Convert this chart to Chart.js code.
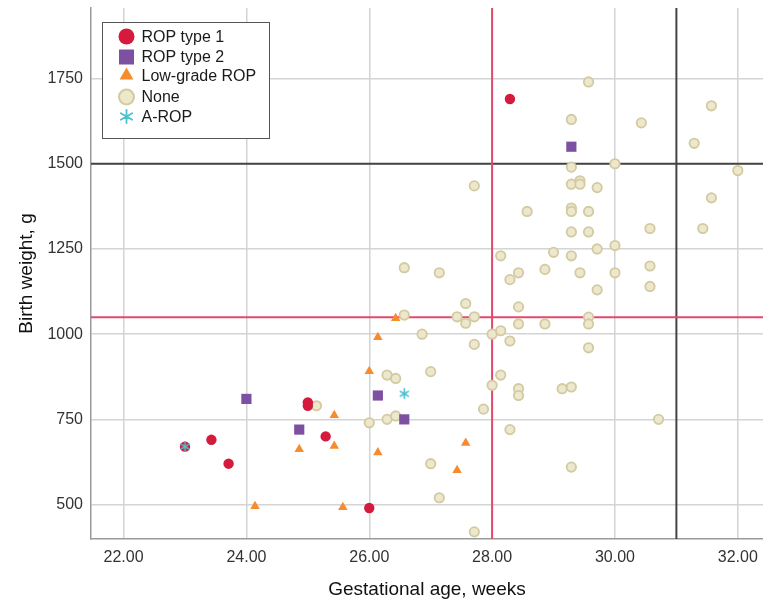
<!DOCTYPE html>
<html><head><meta charset="utf-8">
<script src="https://cdn.jsdelivr.net/npm/chart.js@4.4.0/dist/chart.umd.min.js"></script>
<style>html,body{margin:0;padding:0;background:#fff;}#wrap{width:763px;height:606px;}</style>
</head><body><div id="wrap"><canvas id="c" width="763" height="606"></canvas></div>
<script>
const FONT = '"Liberation Sans", Arial, Helvetica, sans-serif';
const seriesNames = ['ROP type 1', 'ROP type 2', 'Low-grade ROP', 'None', 'A-ROP'];
const xTickValues = [22, 24, 26, 28, 30, 32];
const yTickValues = [500, 750, 1000, 1250, 1500, 1750];
const xRange = [21.47, 32.41];
const yRange = [399, 1957];
const gaCutoffs = [28, 31];      // vertical reference lines (weeks)
const bwCutoffs = [1050, 1500];  // horizontal reference lines (g)

// [gestational age (weeks), birth weight (g)]
const ropType1 = [[23.00,670],[23.43,690],[23.71,620],[25.00,800],[25.00,790],[25.29,700],[26.00,490],[28.29,1690]];
const ropType2 = [[24.00,810],[24.86,720],[26.14,820],[26.57,750],[29.29,1550]];
const lowGrade = [[24.14,495],[24.86,662],[25.43,762],[25.43,672],[25.57,492],[26.00,891],[26.14,991],[26.14,653],[26.43,1047],[27.43,601],[27.57,681]];
const aRop = [[23.00,670],[26.57,825]];
const noneRop = [[26.57,1195],[27.14,1180],[27.57,1090],[27.43,1051],[27.57,1032],[27.71,1051],[26.57,1056],[26.86,1000],[28.00,1000],[27.71,970],[26.29,880],[26.43,870],[27.00,890],[28.00,850],[25.14,790],[26.00,740],[26.29,750],[26.43,760],[27.86,780],[27.00,620],[27.14,520],[27.71,420],
[29.57,1740],[29.29,1630],[30.43,1620],[29.29,1490],[30.00,1500],[27.71,1435],[29.29,1440],[29.43,1450],[29.43,1440],[29.71,1430],[29.29,1370],[29.29,1360],[29.57,1360],[28.57,1360],[29.29,1300],[29.57,1300],[30.00,1260],[29.71,1250],[29.00,1240],[29.29,1230],[28.14,1230],[28.43,1180],[28.86,1190],[28.29,1160],[29.43,1180],[30.00,1180],[29.71,1130],[28.43,1080],[29.57,1050],
[31.57,1670],[31.29,1560],[32.00,1480],[31.57,1400],[30.57,1310],[31.43,1310],[30.57,1200],[30.57,1140],[29.57,1030],[29.57,960],[30.71,750],
[28.43,1030],[28.86,1030],[28.14,1010],[28.29,980],[28.14,880],[28.43,840],[28.43,820],[29.14,840],[29.29,845],[28.29,720],[29.29,610]];

const toPts = arr => arr.map(p => ({x: p[0], y: p[1]}));

function makeStar(size, color, lw) {
  const c = document.createElement('canvas');
  c.width = size; c.height = size;
  const g = c.getContext('2d');
  const r = size / 2 - lw / 2, cx = size / 2, cy = size / 2;
  g.strokeStyle = color; g.lineWidth = lw; g.lineCap = 'round';
  g.beginPath();
  for (let k = 0; k < 6; k++) {
    const a = Math.PI / 2 + k * Math.PI / 3;
    g.moveTo(cx, cy);
    g.lineTo(cx + r * Math.cos(a), cy - r * Math.sin(a));
  }
  g.stroke();
  return c;
}

const C_RED = '#d61a3d', C_PUR = '#7e50a1', C_ORA = '#f68c2e', C_NONE_F = '#ece7cd', C_NONE_B = '#d2caa0', C_CYAN = '#4cc0cc';
const starPlot = makeStar(11, C_CYAN, 1.6);
const starLegend = makeStar(15, C_CYAN, 1.8);

const legendItems = [
  {name: seriesNames[0], style: 'circle', r: 8, fill: C_RED, stroke: C_RED, bw: 0, y: 36.5},
  {name: seriesNames[1], style: 'rect', r: 10.6, fill: C_PUR, stroke: C_PUR, bw: 0, y: 57},
  {name: seriesNames[2], style: 'triangle', r: 8, fill: C_ORA, stroke: C_ORA, bw: 0, y: 75.5},
  {name: seriesNames[3], style: 'circle', r: 7.5, fill: C_NONE_F, stroke: C_NONE_B, bw: 2, y: 97},
  {name: seriesNames[4], style: starLegend, r: 7, fill: C_CYAN, stroke: C_CYAN, bw: 0, y: 116.5}
];

const boxLegend = {
  id: 'boxLegend',
  afterDraw(chart) {
    const ctx = chart.ctx;
    ctx.save();
    ctx.fillStyle = '#fff';
    ctx.fillRect(102.5, 22.5, 167, 116);
    ctx.strokeStyle = '#555'; ctx.lineWidth = 1;
    ctx.strokeRect(102.5, 22.5, 167, 116);
    legendItems.forEach(it => {
      ctx.fillStyle = it.fill; ctx.strokeStyle = it.stroke; ctx.lineWidth = it.bw;
      Chart.helpers.drawPoint(ctx, {pointStyle: it.style, radius: it.r, borderWidth: it.bw, rotation: 0}, 126.5, it.y);
      ctx.fillStyle = '#1a1a1a';
      ctx.font = '16px ' + FONT;
      ctx.textBaseline = 'middle'; ctx.textAlign = 'left';
      ctx.fillText(it.name, 141.5, it.y + 1);
    });
    ctx.restore();
  }
};

const refLine = (pts, color, order) => ({
  data: pts, showLine: true, borderColor: color, borderWidth: 2, pointRadius: 0, order: order
});

const ds = [
  {label: seriesNames[4], data: toPts(aRop), pointStyle: starPlot, pointRadius: 5, order: 0},
  {label: seriesNames[0], data: toPts(ropType1), pointStyle: 'circle', pointRadius: 5.2, backgroundColor: C_RED, borderColor: C_RED, borderWidth: 0, order: 1},
  {label: seriesNames[1], data: toPts(ropType2), pointStyle: 'rect', pointRadius: 7.2, backgroundColor: C_PUR, borderColor: C_PUR, borderWidth: 0, order: 2},
  {label: seriesNames[2], data: toPts(lowGrade), pointStyle: 'triangle', pointRadius: 5.5, backgroundColor: C_ORA, borderColor: C_ORA, borderWidth: 0, order: 3},
  {label: seriesNames[3], data: toPts(noneRop), pointStyle: 'circle', pointRadius: 4.7, backgroundColor: C_NONE_F, borderColor: C_NONE_B, borderWidth: 1.8, order: 4},
  refLine([{x: gaCutoffs[0], y: yRange[0]}, {x: gaCutoffs[0], y: yRange[1]}], '#e24a6c', 10),
  refLine([{x: xRange[0], y: bwCutoffs[0]}, {x: xRange[1], y: bwCutoffs[0]}], '#e24a6c', 10),
  refLine([{x: gaCutoffs[1], y: yRange[0]}, {x: gaCutoffs[1], y: yRange[1]}], '#444', 11),
  refLine([{x: xRange[0], y: bwCutoffs[1]}, {x: xRange[1], y: bwCutoffs[1]}], '#444', 11)
];

new Chart(document.getElementById('c'), {
  type: 'scatter',
  data: {datasets: ds},
  plugins: [boxLegend],
  options: {
    responsive: false, animation: false,
    layout: {autoPadding: false, padding: {top: 8, right: 0, left: 0, bottom: 0}},
    plugins: {legend: {display: false}, tooltip: {enabled: false}},
    elements: {point: {hoverRadius: 5}},
    scales: {
      x: {
        type: 'linear', min: xRange[0], max: xRange[1],
        afterBuildTicks: s => { s.ticks = xTickValues.map(v => ({value: v})); },
        afterFit: s => { s.height = 67; s.paddingLeft = 0; s.paddingRight = 0; },
        grid: {color: '#d4d4d4', lineWidth: 1.5, drawTicks: false},
        border: {color: '#9a9a9a', width: 1.5},
        ticks: {padding: 9, color: '#333', font: {size: 16, family: FONT}, callback: v => Number(v).toFixed(2), maxRotation: 0, autoSkip: false},
        title: {display: true, text: 'Gestational age, weeks', color: '#111', font: {size: 19, family: FONT}, padding: {top: 0, bottom: 5}}
      },
      y: {
        type: 'linear', min: yRange[0], max: yRange[1],
        afterBuildTicks: s => { s.ticks = yTickValues.map(v => ({value: v})); },
        afterFit: s => { s.width = 91; s.paddingTop = 0; s.paddingBottom = 0; },
        grid: {color: '#d4d4d4', lineWidth: 1.5, drawTicks: false},
        border: {color: '#9a9a9a', width: 1.5},
        ticks: {padding: 8, color: '#333', font: {size: 16, family: FONT}, callback: v => String(v), autoSkip: false},
        title: {display: true, text: 'Birth weight, g', color: '#111', font: {size: 19, family: FONT}, padding: {top: 15, bottom: 0}}
      }
    }
  }
});
</script></body></html>
